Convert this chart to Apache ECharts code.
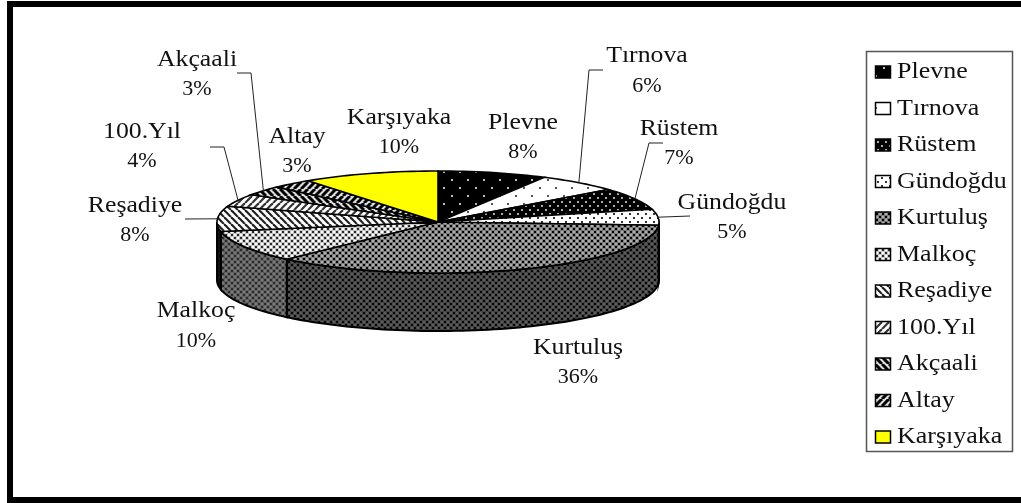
<!DOCTYPE html>
<html>
<head>
<meta charset="utf-8">
<style>
  html, body { margin: 0; padding: 0; background: #fff; }
  #chart { width: 1021px; height: 503px; }
</style>
<script src="https://cdn.jsdelivr.net/npm/echarts@6/dist/echarts.min.js"></script>
</head>
<body>
<div id="chart"></div>
<script>
const names = ['Plevne', 'Tırnova', 'Rüstem', 'Gündoğdu', 'Kurtuluş', 'Malkoç', 'Reşadiye', '100.Yıl', 'Akçaali', 'Altay', 'Karşıyaka']
const shares = [8, 6, 7, 5, 36, 10, 8, 4, 3, 3, 10]

const FONT = '"Liberation Serif", serif'
const DEPTH = 58 // pie thickness in px

// tile helpers for the old office style hatch fills
const tile = (size, paint) => {
  const c = document.createElement('canvas')
  c.width = size
  c.height = size
  paint(c.getContext('2d'), size)
  return { image: c, repeat: 'repeat' }
}
const dots = (bg, fg, size, r) => tile(size, (ctx, s) => {
  ctx.fillStyle = bg
  ctx.fillRect(0, 0, s, s)
  ctx.fillStyle = fg
  ctx.fillRect(s / 4 - r / 2, s / 4 - r / 2, r, r)
  ctx.fillRect(s * 3 / 4 - r / 2, s * 3 / 4 - r / 2, r, r)
})
const lattice = (bg, light, dark) => tile(6, (ctx) => {
  ctx.fillStyle = bg
  ctx.fillRect(0, 0, 6, 6)
  ctx.fillStyle = light
  ctx.fillRect(0, 0, 2, 2)
  ctx.fillRect(3, 3, 2, 2)
  ctx.fillStyle = dark
  ctx.fillRect(3, 0, 2, 2)
  ctx.fillRect(0, 3, 2, 2)
})
const stripes = (bg, fg, dir, w) => tile(7, (ctx) => {
  ctx.fillStyle = bg
  ctx.fillRect(0, 0, 7, 7)
  ctx.strokeStyle = fg
  ctx.lineWidth = w
  for (let k = -7; k <= 14; k += 7) {
    ctx.beginPath()
    if (dir > 0) {
      ctx.moveTo(k, 0)
      ctx.lineTo(k + 7, 7)
    } else {
      ctx.moveTo(k + 7, 0)
      ctx.lineTo(k, 7)
    }
    ctx.stroke()
  }
})

const topFills = [
  dots('#000', '#bbb', 16, 2),
  dots('#fff', '#555', 16, 2),
  dots('#000', '#aaa', 8, 2),
  dots('#fff', '#333', 8, 2),
  lattice('#7c7c7c', '#ababab', '#000'),
  lattice('#c6c6c6', '#fff', '#2a2a2a'),
  stripes('#fff', '#222', 1, 2.2),
  stripes('#fff', '#333', -1, 2.2),
  stripes('#ddd', '#000', 1, 3),
  stripes('#ddd', '#000', -1, 3),
  '#ffff00'
]
const sideFills = {
  4: lattice('#444', '#5c5c5c', '#080808'),
  5: lattice('#606060', '#7a7a7a', '#2a2a2a')
}

// where the labels sit, px, [x, first line y, second line y]
const labelSpots = [
  [523, 123, 152], [647, 56, 86], [679, 129, 158], [732, 203, 232],
  [578, 348, 377], [196, 311, 341], [135, 206, 235], [142, 132, 161],
  [197, 60, 89], [297, 137, 166], [399, 118, 147]
]
// leader elbows, px
const elbows = {
  1: [[603, 70], [589, 70]],
  2: [[663, 143], [649, 143]],
  3: [[690, 216]],
  6: [[185, 219]],
  7: [[210, 147], [224, 147]],
  8: [[237, 73], [251, 73]]
}

const slices = []
let acc = 0
const total = shares.reduce((a, b) => a + b, 0)
for (let i = 0; i < shares.length; i++) {
  const t0 = acc / total * Math.PI * 2
  acc += shares[i]
  slices.push([i, t0, acc / total * Math.PI * 2])
}

// angle runs clockwise from 12 o'clock, the hidden axes squash the unit circle
const rim = (api, t) => api.coord([Math.sin(t), Math.cos(t)])
const arc = (api, a, b) => {
  const pts = []
  const n = Math.max(2, Math.ceil((b - a) / 0.03))
  for (let k = 0; k <= n; k++) pts.push(rim(api, a + (b - a) * k / n))
  return pts
}

const renderSide = (params, api) => {
  const i = api.value(0)
  const a = Math.max(api.value(1), Math.PI / 2)
  const b = Math.min(api.value(2), Math.PI * 3 / 2)
  if (b <= a) return null
  const upper = arc(api, a, b)
  const lower = upper.map((p) => [p[0], p[1] + DEPTH]).reverse()
  return {
    type: 'polygon',
    shape: { points: upper.concat(lower) },
    style: { fill: sideFills[i] || '#111', stroke: '#000', lineWidth: 2 }
  }
}

const renderTop = (params, api) => {
  const i = api.value(0)
  const pts = [api.coord([0, 0])].concat(arc(api, api.value(1), api.value(2)))
  return {
    type: 'polygon',
    shape: { points: pts },
    style: { fill: topFills[i], stroke: '#000', lineWidth: 1.6 }
  }
}

const renderLabel = (params, api) => {
  const i = api.value(0)
  const spot = labelSpots[i]
  const children = [
    {
      type: 'text', x: spot[0], y: spot[1], scaleX: 1.12,
      style: { text: names[i], font: '23px ' + FONT, fill: '#111', align: 'center', verticalAlign: 'middle' }
    },
    {
      type: 'text', x: spot[0], y: spot[2],
      style: { text: shares[i] + '%', font: '22px ' + FONT, fill: '#111', align: 'center', verticalAlign: 'middle' }
    }
  ]
  if (elbows[i]) {
    const mid = (api.value(1) + api.value(2)) / 2
    children.push({
      type: 'polyline',
      shape: { points: elbows[i].concat([rim(api, mid)]) },
      style: { fill: null, stroke: '#222', lineWidth: 1 }
    })
  }
  return { type: 'group', children: children }
}

const legendRows = []
names.forEach((name, i) => {
  const y = 72 + i * 36.5
  legendRows.push({
    type: 'rect',
    shape: { x: 875.5, y: y - 6, width: 15, height: 12 },
    style: { fill: topFills[i], stroke: '#000', lineWidth: 1.5 }
  })
  legendRows.push({
    type: 'text', x: 897, y: y, scaleX: 1.13,
    style: { text: name, font: '23px ' + FONT, fill: '#111', align: 'left', verticalAlign: 'middle' }
  })
})

const chart = echarts.init(document.getElementById('chart'))
chart.setOption({
  animation: false,
  backgroundColor: '#fff',
  grid: { left: 217, top: 171, width: 442, height: 102 },
  xAxis: { type: 'value', min: -1, max: 1, show: false },
  yAxis: { type: 'value', min: -1, max: 1, show: false },
  graphic: [
    { type: 'rect', shape: { x: 7, y: 1, width: 1014, height: 6 }, style: { fill: '#000' } },
    { type: 'rect', shape: { x: 7, y: 1, width: 6, height: 502 }, style: { fill: '#000' } },
    { type: 'rect', shape: { x: 7, y: 497, width: 1014, height: 6 }, style: { fill: '#000' } },
    {
      type: 'rect',
      shape: { x: 866.5, y: 51.5, width: 146, height: 400 },
      style: { fill: '#fff', stroke: '#555', lineWidth: 1.5 }
    },
    { type: 'group', children: legendRows }
  ],
  series: [
    { type: 'custom', renderItem: renderSide, data: slices, silent: true, z: 2 },
    { type: 'custom', renderItem: renderTop, data: slices, silent: true, z: 3 },
    { type: 'custom', renderItem: renderLabel, data: slices, silent: true, z: 4 }
  ]
})
</script>
</body>
</html>
